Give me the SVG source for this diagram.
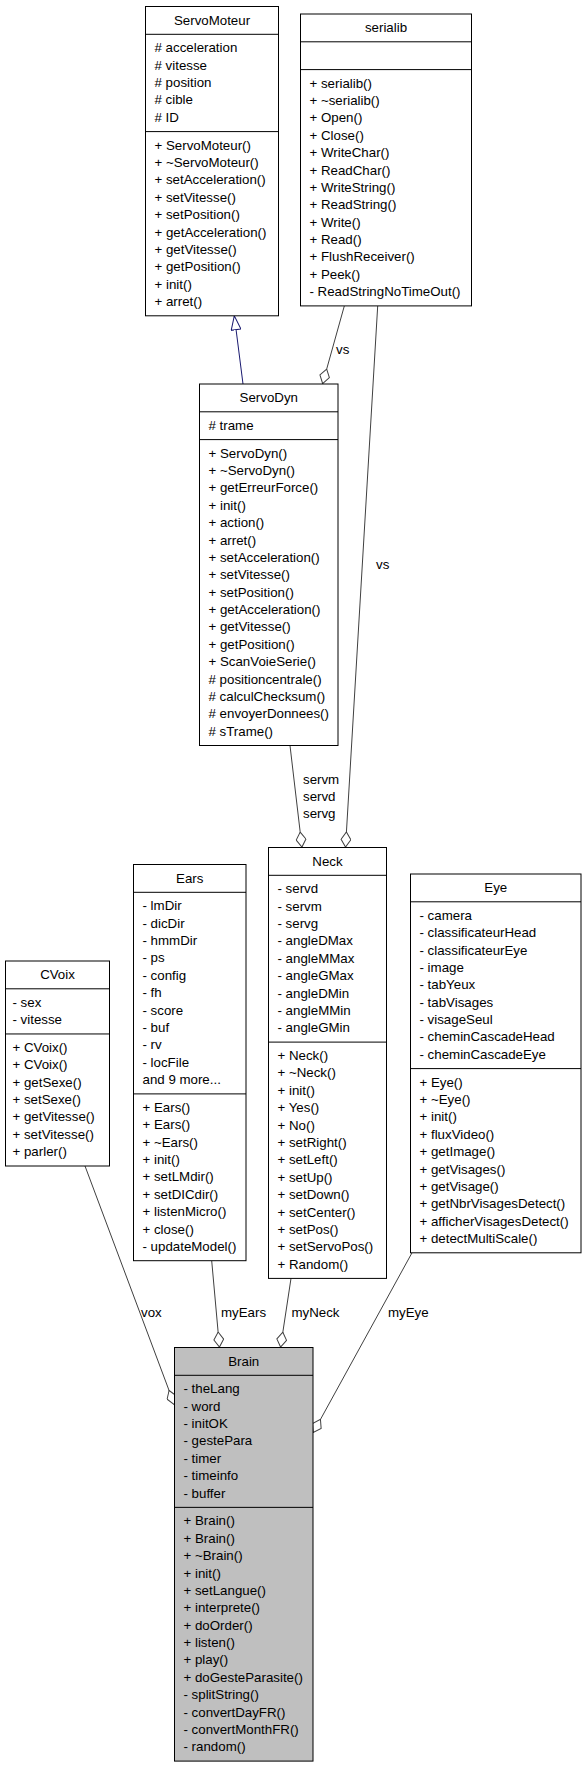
<svg xmlns="http://www.w3.org/2000/svg" width="587" height="1768" viewBox="0 0 587 1768">
<style>
.bg{fill:#fff}
.box{fill:#fff;stroke:#000;stroke-width:1}
.brain{fill:#bfbfbf;stroke:#000;stroke-width:1}
.sep{stroke:#000;stroke-width:1}
text{font-family:"Liberation Sans",Arial,Helvetica,sans-serif;font-size:13.3px;fill:#000}
.c{text-anchor:middle}
.edge{fill:none;stroke:#404040;stroke-width:1}
.gen{fill:none;stroke:#191970;stroke-width:1}
</style>
<defs>
<marker id="dia" viewBox="0 0 16 11" refX="16" refY="5.5" markerWidth="16" markerHeight="11" markerUnits="userSpaceOnUse" orient="auto">
<path d="M0.5,5.5 L8,0.6 L15.5,5.5 L8,10.4 Z" fill="#fff" stroke="#404040" stroke-width="1"/>
</marker>
<marker id="tri" viewBox="0 0 15 11" refX="14.5" refY="5.5" markerWidth="15" markerHeight="11" markerUnits="userSpaceOnUse" orient="auto">
<path d="M0.5,0.6 L14.5,5.5 L0.5,10.4 Z" fill="#fff" stroke="#191970" stroke-width="1"/>
</marker>
</defs>
<rect class="bg" x="0" y="0" width="587" height="1768"/>

<g id="connectors">
<path class="gen" d="M243,384 L234.3,315.8" marker-end="url(#tri)"/>
<path class="edge" d="M344.3,306 L322.5,384" marker-end="url(#dia)"/>
<path class="edge" d="M377.7,306 L345.5,847.5" marker-end="url(#dia)"/>
<path class="edge" d="M290,745.5 L302,847.5" marker-end="url(#dia)"/>
<path class="edge" d="M85,1166 L174.5,1405" marker-end="url(#dia)"/>
<path class="edge" d="M211.7,1260.7 L219.5,1347.5" marker-end="url(#dia)"/>
<path class="edge" d="M291,1278.4 L280.5,1347.5" marker-end="url(#dia)"/>
<path class="edge" d="M412,1252.8 L313,1433" marker-end="url(#dia)"/>
<text x="336" y="354">vs</text>
<text x="376" y="569">vs</text>
<text x="303" y="784">servm</text>
<text x="303" y="801">servd</text>
<text x="303" y="818">servg</text>
<text x="141" y="1317">vox</text>
<text x="221" y="1317">myEars</text>
<text x="291.5" y="1317">myNeck</text>
<text x="388" y="1317">myEye</text>
</g>

<g id="ServoMoteur" transform="translate(145.5,6.5)">
<rect class="box" x="0" y="0" width="133" height="309.3"/>
<line class="sep" x1="0" y1="27.8" x2="133" y2="27.8"/>
<line class="sep" x1="0" y1="125.1" x2="133" y2="125.1"/>
<text class="c" x="66.5" y="18">ServoMoteur</text>
<text x="9" y="45.8"># acceleration</text>
<text x="9" y="63.18"># vitesse</text>
<text x="9" y="80.56"># position</text>
<text x="9" y="97.94"># cible</text>
<text x="9" y="115.32"># ID</text>
<text x="9" y="143.1">+ ServoMoteur()</text>
<text x="9" y="160.48">+ ~ServoMoteur()</text>
<text x="9" y="177.86">+ setAcceleration()</text>
<text x="9" y="195.24">+ setVitesse()</text>
<text x="9" y="212.62">+ setPosition()</text>
<text x="9" y="230">+ getAcceleration()</text>
<text x="9" y="247.38">+ getVitesse()</text>
<text x="9" y="264.76">+ getPosition()</text>
<text x="9" y="282.14">+ init()</text>
<text x="9" y="299.52">+ arret()</text>
</g>

<g id="serialib" transform="translate(300.5,14)">
<rect class="box" x="0" y="0" width="171" height="291.9"/>
<line class="sep" x1="0" y1="27.8" x2="171" y2="27.8"/>
<line class="sep" x1="0" y1="55.6" x2="171" y2="55.6"/>
<text class="c" x="85.5" y="18">serialib</text>
<text x="9" y="73.6">+ serialib()</text>
<text x="9" y="90.98">+ ~serialib()</text>
<text x="9" y="108.36">+ Open()</text>
<text x="9" y="125.74">+ Close()</text>
<text x="9" y="143.12">+ WriteChar()</text>
<text x="9" y="160.5">+ ReadChar()</text>
<text x="9" y="177.88">+ WriteString()</text>
<text x="9" y="195.26">+ ReadString()</text>
<text x="9" y="212.64">+ Write()</text>
<text x="9" y="230.02">+ Read()</text>
<text x="9" y="247.4">+ FlushReceiver()</text>
<text x="9" y="264.78">+ Peek()</text>
<text x="9" y="282.16">- ReadStringNoTimeOut()</text>
</g>

<g id="ServoDyn" transform="translate(199.5,384)">
<rect class="box" x="0" y="0" width="138.5" height="361.5"/>
<line class="sep" x1="0" y1="27.8" x2="138.5" y2="27.8"/>
<line class="sep" x1="0" y1="55.6" x2="138.5" y2="55.6"/>
<text class="c" x="69.25" y="18">ServoDyn</text>
<text x="9" y="45.8"># trame</text>
<text x="9" y="73.6">+ ServoDyn()</text>
<text x="9" y="90.98">+ ~ServoDyn()</text>
<text x="9" y="108.36">+ getErreurForce()</text>
<text x="9" y="125.74">+ init()</text>
<text x="9" y="143.12">+ action()</text>
<text x="9" y="160.5">+ arret()</text>
<text x="9" y="177.88">+ setAcceleration()</text>
<text x="9" y="195.26">+ setVitesse()</text>
<text x="9" y="212.64">+ setPosition()</text>
<text x="9" y="230.02">+ getAcceleration()</text>
<text x="9" y="247.4">+ getVitesse()</text>
<text x="9" y="264.78">+ getPosition()</text>
<text x="9" y="282.16">+ ScanVoieSerie()</text>
<text x="9" y="299.54"># positioncentrale()</text>
<text x="9" y="316.92"># calculChecksum()</text>
<text x="9" y="334.3"># envoyerDonnees()</text>
<text x="9" y="351.68"># sTrame()</text>
</g>

<g id="CVoix" transform="translate(5.5,961)">
<rect class="box" x="0" y="0" width="104" height="205"/>
<line class="sep" x1="0" y1="27.8" x2="104" y2="27.8"/>
<line class="sep" x1="0" y1="72.96" x2="104" y2="72.96"/>
<text class="c" x="52" y="18">CVoix</text>
<text x="7" y="45.8">- sex</text>
<text x="7" y="63.18">- vitesse</text>
<text x="7" y="90.96">+ CVoix()</text>
<text x="7" y="108.34">+ CVoix()</text>
<text x="7" y="125.72">+ getSexe()</text>
<text x="7" y="143.1">+ setSexe()</text>
<text x="7" y="160.48">+ getVitesse()</text>
<text x="7" y="177.86">+ setVitesse()</text>
<text x="7" y="195.24">+ parler()</text>
</g>

<g id="Ears" transform="translate(133.5,864.5)">
<rect class="box" x="0" y="0" width="112.5" height="396.2"/>
<line class="sep" x1="0" y1="27.8" x2="112.5" y2="27.8"/>
<line class="sep" x1="0" y1="229.4" x2="112.5" y2="229.4"/>
<text class="c" x="56.25" y="18">Ears</text>
<text x="9" y="45.8">- lmDir</text>
<text x="9" y="63.18">- dicDir</text>
<text x="9" y="80.56">- hmmDir</text>
<text x="9" y="97.94">- ps</text>
<text x="9" y="115.32">- config</text>
<text x="9" y="132.7">- fh</text>
<text x="9" y="150.08">- score</text>
<text x="9" y="167.46">- buf</text>
<text x="9" y="184.84">- rv</text>
<text x="9" y="202.22">- locFile</text>
<text x="9" y="219.6">and 9 more...</text>
<text x="9" y="247.4">+ Ears()</text>
<text x="9" y="264.78">+ Ears()</text>
<text x="9" y="282.16">+ ~Ears()</text>
<text x="9" y="299.54">+ init()</text>
<text x="9" y="316.92">+ setLMdir()</text>
<text x="9" y="334.3">+ setDICdir()</text>
<text x="9" y="351.68">+ listenMicro()</text>
<text x="9" y="369.06">+ close()</text>
<text x="9" y="386.44">- updateModel()</text>
</g>

<g id="Neck" transform="translate(268.5,847.5)">
<rect class="box" x="0" y="0" width="118" height="430.9"/>
<line class="sep" x1="0" y1="27.8" x2="118" y2="27.8"/>
<line class="sep" x1="0" y1="194.6" x2="118" y2="194.6"/>
<text class="c" x="59" y="18">Neck</text>
<text x="9" y="45.8">- servd</text>
<text x="9" y="63.18">- servm</text>
<text x="9" y="80.56">- servg</text>
<text x="9" y="97.94">- angleDMax</text>
<text x="9" y="115.32">- angleMMax</text>
<text x="9" y="132.7">- angleGMax</text>
<text x="9" y="150.08">- angleDMin</text>
<text x="9" y="167.46">- angleMMin</text>
<text x="9" y="184.84">- angleGMin</text>
<text x="9" y="212.6">+ Neck()</text>
<text x="9" y="229.98">+ ~Neck()</text>
<text x="9" y="247.36">+ init()</text>
<text x="9" y="264.74">+ Yes()</text>
<text x="9" y="282.12">+ No()</text>
<text x="9" y="299.5">+ setRight()</text>
<text x="9" y="316.88">+ setLeft()</text>
<text x="9" y="334.26">+ setUp()</text>
<text x="9" y="351.64">+ setDown()</text>
<text x="9" y="369.02">+ setCenter()</text>
<text x="9" y="386.4">+ setPos()</text>
<text x="9" y="403.78">+ setServoPos()</text>
<text x="9" y="421.16">+ Random()</text>
</g>

<g id="Eye" transform="translate(410.5,874)">
<rect class="box" x="0" y="0" width="170.5" height="378.8"/>
<line class="sep" x1="0" y1="27.8" x2="170.5" y2="27.8"/>
<line class="sep" x1="0" y1="194.6" x2="170.5" y2="194.6"/>
<text class="c" x="85.25" y="18">Eye</text>
<text x="9" y="45.8">- camera</text>
<text x="9" y="63.18">- classificateurHead</text>
<text x="9" y="80.56">- classificateurEye</text>
<text x="9" y="97.94">- image</text>
<text x="9" y="115.32">- tabYeux</text>
<text x="9" y="132.7">- tabVisages</text>
<text x="9" y="150.08">- visageSeul</text>
<text x="9" y="167.46">- cheminCascadeHead</text>
<text x="9" y="184.84">- cheminCascadeEye</text>
<text x="9" y="212.6">+ Eye()</text>
<text x="9" y="229.98">+ ~Eye()</text>
<text x="9" y="247.36">+ init()</text>
<text x="9" y="264.74">+ fluxVideo()</text>
<text x="9" y="282.12">+ getImage()</text>
<text x="9" y="299.5">+ getVisages()</text>
<text x="9" y="316.88">+ getVisage()</text>
<text x="9" y="334.26">+ getNbrVisagesDetect()</text>
<text x="9" y="351.64">+ afficherVisagesDetect()</text>
<text x="9" y="369.02">+ detectMultiScale()</text>
</g>

<g id="Brain" transform="translate(174.5,1347.5)">
<rect class="brain" x="0" y="0" width="138.5" height="413.6"/>
<line class="sep" x1="0" y1="27.8" x2="138.5" y2="27.8"/>
<line class="sep" x1="0" y1="159.86" x2="138.5" y2="159.86"/>
<text class="c" x="69.25" y="18">Brain</text>
<text x="9" y="45.8">- theLang</text>
<text x="9" y="63.18">- word</text>
<text x="9" y="80.56">- initOK</text>
<text x="9" y="97.94">- gestePara</text>
<text x="9" y="115.32">- timer</text>
<text x="9" y="132.7">- timeinfo</text>
<text x="9" y="150.08">- buffer</text>
<text x="9" y="177.86">+ Brain()</text>
<text x="9" y="195.24">+ Brain()</text>
<text x="9" y="212.62">+ ~Brain()</text>
<text x="9" y="230">+ init()</text>
<text x="9" y="247.38">+ setLangue()</text>
<text x="9" y="264.76">+ interprete()</text>
<text x="9" y="282.14">+ doOrder()</text>
<text x="9" y="299.52">+ listen()</text>
<text x="9" y="316.9">+ play()</text>
<text x="9" y="334.28">+ doGesteParasite()</text>
<text x="9" y="351.66">- splitString()</text>
<text x="9" y="369.04">- convertDayFR()</text>
<text x="9" y="386.42">- convertMonthFR()</text>
<text x="9" y="403.8">- random()</text>
</g>
</svg>
